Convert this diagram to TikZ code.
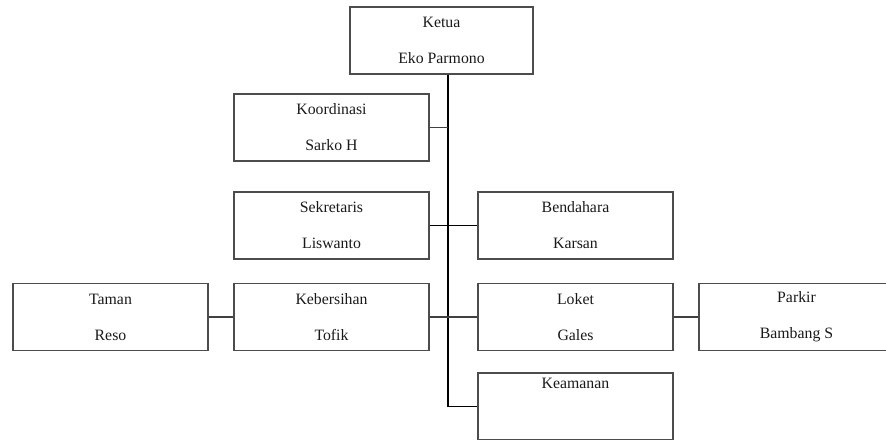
\documentclass[tikz,border=0pt]{standalone}
\usepackage{fontspec}
\setmainfont{Liberation Serif}
\begin{document}
\begin{tikzpicture}[x=1pt,y=-1pt,
  box/.style={draw=black!70,line width=1.3pt,rectangle,inner sep=0pt,
    minimum width=195pt,minimum height=67pt,align=center,
    font=\fontsize{15.8}{36}\selectfont,text=black!90},
  link/.style={draw=black!75,line width=1.2pt},
  trunk/.style={draw=black,line width=1.6pt}]
\useasboundingbox (0,0) rectangle (886,439);
\begin{scope}
\clip (0,0) rectangle (886,439);
\node[box,minimum width=183pt] (ketua) at (441.5,40.5) {Ketua\\Eko Parmono};
\node[box] (koord) at (331.5,127.5) {Koordinasi\\Sarko H};
\node[box] (sekr) at (331.5,225.5) {Sekretaris\\Liswanto};
\node[box] (bend) at (575.5,225.5) {Bendahara\\Karsan};
\node[box] (taman) at (110.5,317) {Taman\\Reso};
\node[box] (keber) at (331.5,317) {Kebersihan\\Tofik};
\node[box] (loket) at (575.5,317) {Loket\\Gales};
\node[box] (parkir) at (796.5,317) {Parkir\\Bambang S};
\node[box] (keam) at (575.5,406.5) {Keamanan\\\strut};
\coordinate (t) at (448,74);
\draw[trunk] (ketua.south -| t) -- (t |- keam.west) -- (keam.west);
\draw[link] (koord.east) -- (koord.east -| t);
\draw[trunk,line width=1.3pt] (sekr.east) -- (bend.west);
\draw[link] (keber.east) -- (loket.west);
\draw[link] (taman.east) -- (keber.west);
\draw[link] (loket.east) -- (parkir.west);
\end{scope}
\end{tikzpicture}
\end{document}
